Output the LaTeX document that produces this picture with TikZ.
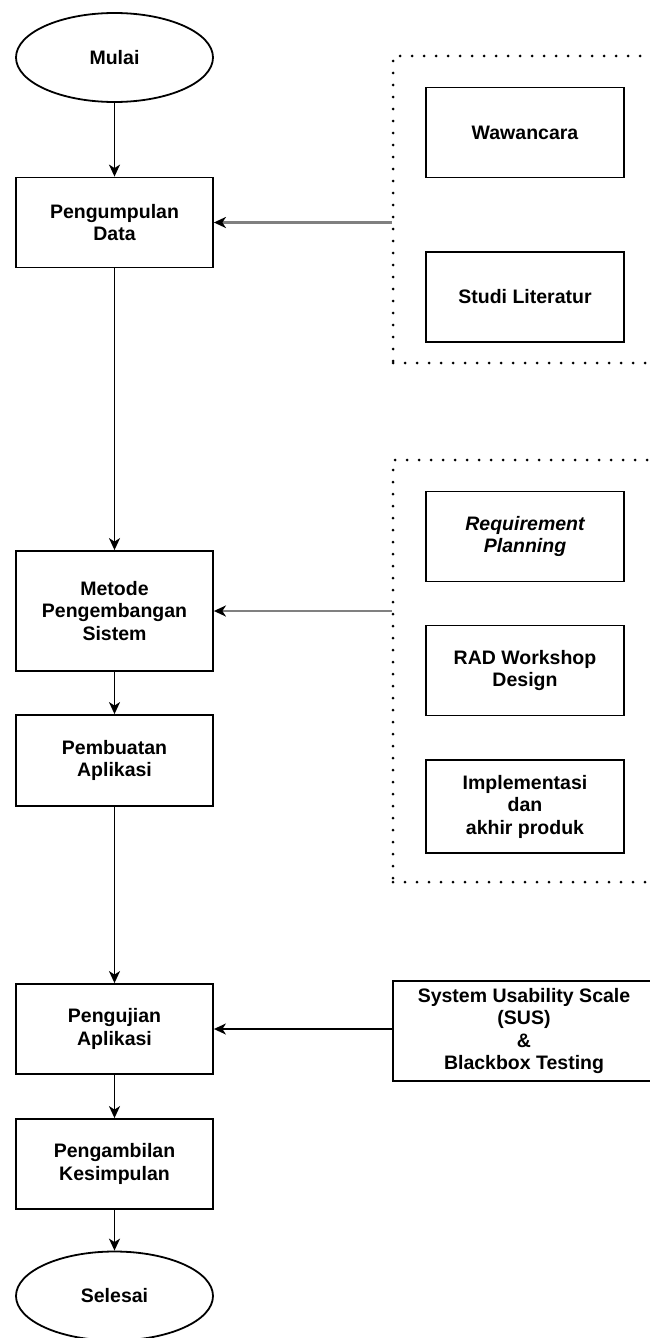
\documentclass[tikz,border=0pt]{standalone}
\usepackage{fontspec}
\setmainfont{Liberation Sans}
\usetikzlibrary{arrows.meta,shapes.geometric}
\newcommand{\boxfont}{\bfseries\fontsize{19.5}{22.5}\selectfont}
\tikzset{
  term/.style={ellipse, draw, line width=1.8pt, minimum width=197pt, minimum height=89pt, inner sep=0pt, font=\boxfont},
  proc/.style={rectangle, draw, line width=1.8pt, minimum width=197pt, minimum height=#1, inner sep=0pt, align=center, font=\boxfont},
  proc/.default=90pt,
  sub/.style={proc=#1, minimum width=198pt},
  sub/.default=90pt,
  group/.style={rectangle, draw, line width=3pt, dash pattern=on 0pt off 12pt, line cap=round, minimum width=270pt, minimum height=#1, inner sep=0pt},
  flow/.style={-{Stealth[length=12pt,width=11pt,inset=3.5pt]}, line width=1.8pt},
  feed/.style={draw=black!50, line width=2.2pt, -{Stealth[length=12pt,width=11pt,inset=3.5pt,color=black]}},
}
\begin{document}
\begin{tikzpicture}[x=1pt,y=-1pt]
  \path[use as bounding box, fill=white] (0,0) rectangle (649,1338);
  % alur utama
  \node[term] (mulai) at (114.5,57.5) {Mulai};
  \node[proc] (kumpul) at (114.5,222.5) {Pengumpulan\\Data};
  \node[proc=120pt] (metode) at (114.5,611) {Metode\\Pengembangan\\Sistem};
  \node[proc=91pt] (buat) at (114.5,760.5) {Pembuatan\\Aplikasi};
  \node[proc] (uji) at (114.5,1029) {Pengujian\\Aplikasi};
  \node[proc] (simpul) at (114.5,1164) {Pengambilan\\Kesimpulan};
  \node[term] (selesai) at (114.5,1296) {Selesai};
  % kelompok kanan
  \node[group=307pt] (grupdata) at (528,209.5) {};
  \node[sub] (wawancara) at (525,132.5) {Wawancara};
  \node[sub] (studi) at (525,297) {Studi Literatur};
  \node[group=422pt] (gruprad) at (528,671) {};
  \node[sub] (req) at (525,536.5) {\itshape Requirement\\\itshape Planning};
  \node[sub] (rad) at (525,670.5) {RAD Workshop\\Design};
  \node[sub=93pt] (impl) at (525,806.5) {Implementasi\\dan\\akhir produk};
  \node[proc=100pt, minimum width=262pt] (sus) at (524,1031) {System Usability Scale\\(SUS)\\\&\\Blackbox Testing};
  % panah
  \draw[flow] (mulai) -- (kumpul);
  \draw[flow] (kumpul) -- (metode);
  \draw[flow] (metode) -- (buat);
  \draw[flow] (buat) -- (uji);
  \draw[flow] (uji) -- (simpul);
  \draw[flow] (simpul) -- (selesai);
  \draw[feed] (grupdata.west |- kumpul.east) -- (kumpul.east);
  \draw[feed] (gruprad.west |- metode.east) -- (metode.east);
  \draw[flow] (sus.west |- uji.east) -- (uji.east);
\end{tikzpicture}
\end{document}
